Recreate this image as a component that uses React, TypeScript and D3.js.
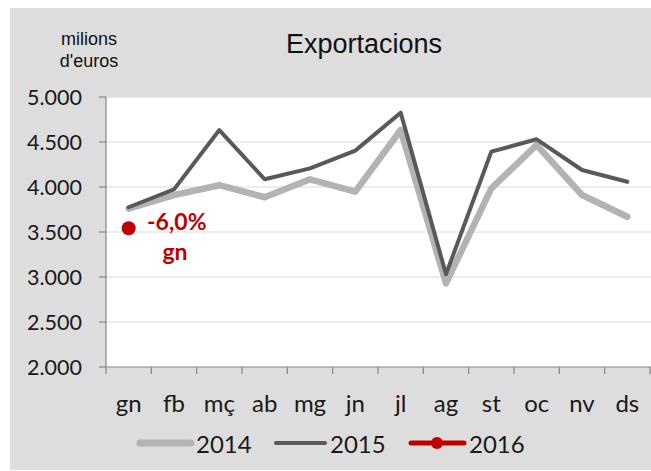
import React from "react";
import * as d3 from "d3";

const months = ["gn", "fb", "mç", "ab", "mg", "jn", "jl", "ag", "st", "oc", "nv", "ds"];
const values2014 = [3760, 3910, 4020, 3886, 4086, 3948, 4633, 2930, 3985, 4467, 3911, 3670];
const values2015 = [3775, 3974, 4633, 4086, 4207, 4404, 4826, 3030, 4393, 4530, 4189, 4059];
const values2016 = [3541];
const yTicks = [2000, 2500, 3000, 3500, 4000, 4500, 5000];
const seriesNames = ["2014", "2015", "2016"];
const annotationPct = "-6,0%";
const annotationMonth = "gn";

const fmt = (v: number) => d3.format(",")(v).replace(/,/g, ".");

export default function App() {
  const W = 651, H = 471;
  const left = 106, right = 650, top = 97, bottom = 367;
  const x = d3.scaleBand<string>().domain(months).range([left, right]).padding(0);
  const y = d3.scaleLinear().domain([2000, 5000]).range([bottom, top]);
  const cx = (m: string) => (x(m) as number) + x.bandwidth() / 2;
  const line = d3
    .line<number>()
    .x((_, i) => cx(months[i]))
    .y((d) => y(d));

  const axisFont = "Lato, 'Open Sans', sans-serif";
  const titleFont = "'Liberation Sans', Arial, sans-serif";
  const red = "#C00000";
  const dark = "#595959";
  const light = "#B3B3B3";

  const boundaries = months.map((m) => x(m) as number).concat([right]);

  return (
    <svg
      width={W}
      height={H}
      style={{ position: "absolute", left: 0, top: 0, display: "block" }}
    >
      <rect x={0} y={0} width={W} height={H} fill="#fff" />
      <rect x={10} y={8} width={W - 10} height={462} fill="#DDDDDD" />
      <rect x={left} y={top} width={right - left + 1} height={bottom - top} fill="#fff" />

      {/* gridlines */}
      {yTicks.slice(1).map((t) => (
        <line key={t} x1={left} x2={right + 1} y1={y(t)} y2={y(t)} stroke="#D9D9D9" strokeWidth={1.2} />
      ))}

      {/* axes */}
      <line x1={left} x2={left} y1={top} y2={bottom} stroke="#868686" strokeWidth={1.2} />
      <line x1={left} x2={right + 1} y1={bottom} y2={bottom} stroke="#868686" strokeWidth={1.2} />
      {yTicks.map((t) => (
        <g key={t}>
          <line x1={left - 7} x2={left} y1={y(t)} y2={y(t)} stroke="#868686" strokeWidth={1.2} />
          <text x={82} y={y(t)} dy="0.36em" textAnchor="end" fontFamily={axisFont} fontSize={21.5} fill="#1a1a1a">
            {fmt(t)}
          </text>
        </g>
      ))}
      {boundaries.map((b, i) => (
        <line key={i} x1={b} x2={b} y1={bottom} y2={bottom + 7} stroke="#868686" strokeWidth={1.2} />
      ))}
      {months.map((m) => (
        <text key={m} x={cx(m)} y={412} textAnchor="middle" fontFamily={axisFont} fontSize={24} fill="#1a1a1a">
          {m}
        </text>
      ))}

      {/* series */}
      <path d={line(values2014) || ""} fill="none" stroke={light} strokeWidth={6.5} strokeLinejoin="round" strokeLinecap="round" />
      <path d={line(values2015) || ""} fill="none" stroke={dark} strokeWidth={4} strokeLinejoin="round" strokeLinecap="round" />
      {values2016.map((v, i) => (
        <circle key={i} cx={cx(months[i])} cy={y(v)} r={7} fill={red} />
      ))}
      <text x={147} y={230} fontFamily={axisFont} fontWeight="bold" fontSize={23} fill={red}>
        {annotationPct}
      </text>
      <text x={175} y={260} textAnchor="middle" fontFamily={axisFont} fontWeight="bold" fontSize={23} fill={red}>
        {annotationMonth}
      </text>

      {/* titles */}
      <text x={364} y={53} textAnchor="middle" fontFamily={titleFont} fontSize={27} fill="#111">
        Exportacions
      </text>
      <text x={89} y={45} textAnchor="middle" fontFamily={titleFont} fontSize={18} fill="#111">
        milions
      </text>
      <text x={89} y={67} textAnchor="middle" fontFamily={titleFont} fontSize={18} fill="#111">
        d'euros
      </text>

      {/* legend */}
      <line x1={140} x2={191} y1={443} y2={443} stroke={light} strokeWidth={7} strokeLinecap="round" />
      <text x={196} y={452.5} fontFamily={axisFont} fontSize={24} fill="#1a1a1a">{seriesNames[0]}</text>
      <line x1={276} x2={325} y1={443} y2={443} stroke={dark} strokeWidth={4} strokeLinecap="round" />
      <text x={330} y={452.5} fontFamily={axisFont} fontSize={24} fill="#1a1a1a">{seriesNames[1]}</text>
      <line x1={411} x2={464} y1={443} y2={443} stroke={red} strokeWidth={5} strokeLinecap="round" />
      <circle cx={437} cy={443} r={6} fill={red} />
      <text x={469} y={452.5} fontFamily={axisFont} fontSize={24} fill="#1a1a1a">{seriesNames[2]}</text>
    </svg>
  );
}
